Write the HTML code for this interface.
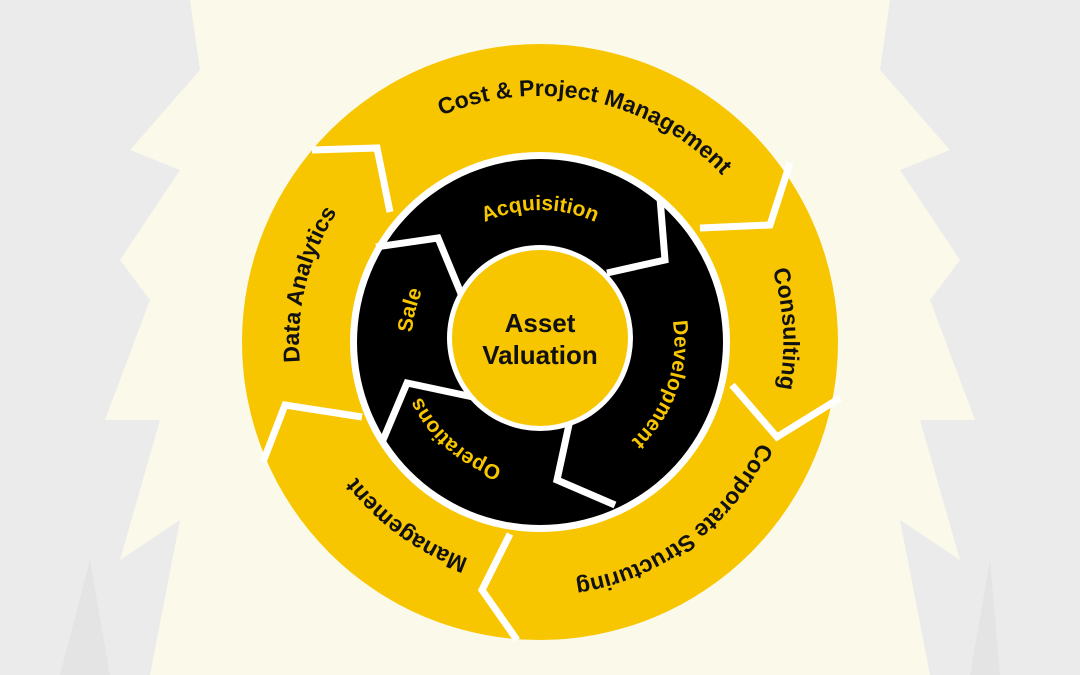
<!DOCTYPE html>
<html><head><meta charset="utf-8"><style>
html,body{margin:0;padding:0;background:#ebebeb;}
svg{display:block;}
text{font-family:"Liberation Sans",sans-serif;font-weight:bold;}
</style></head><body>
<svg width="1080" height="675" viewBox="0 0 1080 675" xmlns="http://www.w3.org/2000/svg">
<rect width="1080" height="675" fill="#ebebeb"/>
<polygon fill="#fbf9ea" points="190,0 890,0 880,70 950,150 900,170 960,260 930,300 975,420 920,420 960,560 900,520 930,675 150,675 180,520 120,560 160,420 105,420 150,300 120,260 180,170 130,150 200,70"/>
<polygon fill="#e4e4e4" points="60,675 90,560 110,675"/>
<polygon fill="#e4e4e4" points="1000,675 990,560 970,675"/>
<circle cx="540" cy="342" r="298" fill="#f7c600"/>
<circle cx="540" cy="342" r="190" fill="#ffffff"/>
<circle cx="540" cy="342" r="183" fill="#000000"/>
<g fill="none" stroke="#ffffff" stroke-width="7" stroke-linejoin="miter">
<polyline points="312,150 377,148 390,212"/>
<polyline points="790,163 770,225 700,228"/>
<polyline points="840,398 777,437 732,385"/>
<polyline points="510,534 482,590 517,640"/>
<polyline points="263,462 285,405 362,417"/>
<polyline points="376,247 438,238 462,296"/>
<polyline points="660,198 665,260 607,273"/>
<polyline points="615,505 557,480 570,420"/>
<polyline points="383,440 407,383 473,397"/>
</g>
<circle cx="540" cy="338" r="93" fill="#ffffff"/>
<circle cx="540" cy="338" r="88" fill="#f7c600"/>
<defs>
<path id="p1" d="M295.5,290 A250,250 0 0 1 784.5,394"/>
<path id="p2" d="M527,99 A243,243 0 0 1 553,585"/>
<path id="p3" d="M733,197 A241,241 0 0 1 347,487"/>
<path id="p4" d="M737,485 A244,244 0 0 1 343,199"/>
<path id="p5" d="M482,576 A241,241 0 0 1 598,108"/>
<path id="q1" d="M408,342 A132,132 0 0 1 672,342"/>
<path id="q2" d="M584,215 A134,134 0 0 1 496,469"/>
<path id="q3" d="M641,430 A134,134 0 0 1 439,254"/>
<path id="q4" d="M508,472 A134,134 0 0 1 572,212"/>
</defs>
<g font-size="23" fill="#111">
<text><textPath href="#p1" startOffset="50%" text-anchor="middle">Cost &amp; Project Management</textPath></text>
<text><textPath href="#p2" startOffset="50%" text-anchor="middle">Consulting</textPath></text>
<text><textPath href="#p3" startOffset="50%" text-anchor="middle">Corporate Structuring</textPath></text>
<text><textPath href="#p4" startOffset="50%" text-anchor="middle">Management</textPath></text>
<text><textPath href="#p5" startOffset="50%" text-anchor="middle">Data Analytics</textPath></text>
</g>
<g font-size="21" fill="#f7c600">
<text><textPath href="#q1" startOffset="50%" text-anchor="middle">Acquisition</textPath></text>
<text><textPath href="#q2" startOffset="50%" text-anchor="middle">Development</textPath></text>
<text><textPath href="#q3" startOffset="50%" text-anchor="middle">Operations</textPath></text>
<text><textPath href="#q4" startOffset="50%" text-anchor="middle">Sale</textPath></text>
</g>
<text x="540" y="332" font-size="26" fill="#111" text-anchor="middle">Asset</text>
<text x="540" y="364" font-size="26" fill="#111" text-anchor="middle">Valuation</text>
</svg>
</body></html>
